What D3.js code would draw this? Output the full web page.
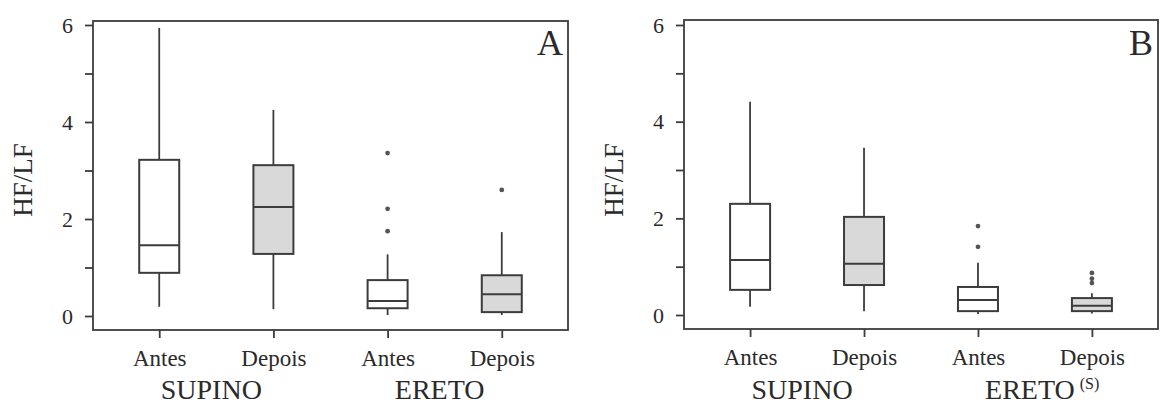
<!DOCTYPE html>
<html>
<head>
<meta charset="utf-8">
<script src="https://cdn.jsdelivr.net/npm/d3@7/dist/d3.min.js"></script>
<style>
  html, body { margin: 0; padding: 0; background: #fff; }
  svg { display: block; }
  text { font-family: "Liberation Serif", "Times New Roman", serif; fill: #2a2a2a; }
</style>
</head>
<body>
<svg id="chart" width="1160" height="407"></svg>
<script>
// ---------- data ----------
const categories = ["Antes", "Depois", "Antes", "Depois"];
const groups = ["SUPINO", "ERETO"];
const yTicks = [0, 2, 4, 6];
const yMinorTicks = [1, 3, 5];
const boxFills = ["#ffffff", "#d9d9d9", "#ffffff", "#d9d9d9"];

// Panel A
const whiskerLowA  = [0.19, 0.14, 0.02, 0.02];
const q1A          = [0.89, 1.28, 0.16, 0.08];
const medianA      = [1.46, 2.25, 0.31, 0.45];
const q3A          = [3.22, 3.11, 0.74, 0.84];
const whiskerHighA = [5.94, 4.25, 1.27, 1.73];
const outliersA    = [[], [], [3.36, 2.21, 1.75], [2.60]];

// Panel B
const whiskerLowB  = [0.17, 0.08, 0.02, 0.03];
const q1B          = [0.52, 0.62, 0.08, 0.08];
const medianB      = [1.14, 1.06, 0.31, 0.19];
const q3B          = [2.30, 2.03, 0.58, 0.35];
const whiskerHighB = [4.41, 3.46, 1.08, 0.45];
const outliersB    = [[], [], [1.84, 1.41], [0.87, 0.75, 0.66]];

const panels = [
  { letter: "A", sup: "", left: 93, right: 568, top: 21, bottom: 330, y0: 316, y6: 25,
    lo: whiskerLowA, q1: q1A, med: medianA, q3: q3A, hi: whiskerHighA, out: outliersA },
  { letter: "B", sup: "(S)", left: 684, right: 1158, top: 20, bottom: 329, y0: 315, y6: 25,
    lo: whiskerLowB, q1: q1B, med: medianB, q3: q3B, hi: whiskerHighB, out: outliersB }
];

// ---------- drawing ----------
const svg = d3.select("#chart");
const ink = "#3c3c3c";
const boxW = 40;

panels.forEach(p => {
  const g = svg.append("g");
  const idx = d3.range(categories.length);
  const x = d3.scalePoint().domain(idx).range([p.left, p.right]).padding(0.58);
  const y = d3.scaleLinear().domain([0, 6]).range([p.y0, p.y6]);

  // frame
  g.append("rect")
    .attr("x", p.left).attr("y", p.top)
    .attr("width", p.right - p.left).attr("height", p.bottom - p.top)
    .attr("fill", "none").attr("stroke", ink).attr("stroke-width", 1.8);

  // y axis (major + minor ticks)
  const yAxis = g.append("g").attr("transform", `translate(${p.left},0)`)
    .call(d3.axisLeft(y).tickValues(yTicks).tickSize(8).tickPadding(12).tickFormat(d3.format("d")));
  yAxis.select(".domain").remove();
  yAxis.selectAll("line").attr("stroke", ink).attr("stroke-width", 1.8);
  yAxis.selectAll("text").attr("font-size", 22).attr("fill", "#2a2a2a")
    .attr("font-family", "Liberation Serif");
  const yMinor = g.append("g").attr("transform", `translate(${p.left},0)`)
    .call(d3.axisLeft(y).tickValues(yMinorTicks).tickSize(8).tickFormat(""));
  yMinor.select(".domain").remove();
  yMinor.selectAll("line").attr("stroke", ink).attr("stroke-width", 1.8);

  // x axis
  const xAxis = g.append("g").attr("transform", `translate(0,${p.bottom})`)
    .call(d3.axisBottom(x).tickSize(8).tickPadding(11.5).tickFormat(i => categories[i]));
  xAxis.select(".domain").remove();
  xAxis.selectAll("line").attr("stroke", ink).attr("stroke-width", 1.8);
  xAxis.selectAll("text").attr("font-size", 23).attr("fill", "#2a2a2a")
    .attr("font-family", "Liberation Serif");

  // y label
  g.append("text")
    .attr("transform", `translate(${p.left - 70},180) rotate(-90)`)
    .attr("text-anchor", "middle").attr("dominant-baseline", "central")
    .attr("font-size", 27).text("HF/LF");

  // group labels
  const mid1 = (x(0) + x(1)) / 2 - 5;
  const mid2 = (x(2) + x(3)) / 2 - 5;
  g.append("text").attr("x", mid1).attr("y", 399).attr("text-anchor", "middle")
    .attr("font-size", 28).text(groups[0]);
  const er = g.append("text").attr("x", mid2).attr("y", 399).attr("text-anchor", "middle")
    .attr("font-size", 28).text(groups[1]);
  if (p.sup) {
    const w = er.node().getComputedTextLength();
    g.append("text").attr("x", mid2 + w / 2 + 5).attr("y", 389)
      .attr("font-size", 16).text(p.sup);
  }

  // panel letter
  g.append("text").attr("x", p.right - 5).attr("y", 55).attr("text-anchor", "end")
    .attr("font-size", 36).attr("fill", "#1e1e1e").text(p.letter);

  // boxes
  idx.forEach(i => {
    const cx = x(i);
    g.append("line").attr("x1", cx).attr("x2", cx)
      .attr("y1", y(p.hi[i])).attr("y2", y(p.q3[i]))
      .attr("stroke", ink).attr("stroke-width", 1.8);
    g.append("line").attr("x1", cx).attr("x2", cx)
      .attr("y1", y(p.q1[i])).attr("y2", y(p.lo[i]))
      .attr("stroke", ink).attr("stroke-width", 1.8);
    g.append("rect").attr("x", cx - boxW / 2).attr("y", y(p.q3[i]))
      .attr("width", boxW).attr("height", y(p.q1[i]) - y(p.q3[i]))
      .attr("fill", boxFills[i]).attr("stroke", ink).attr("stroke-width", 2);
    g.append("line").attr("x1", cx - boxW / 2).attr("x2", cx + boxW / 2)
      .attr("y1", y(p.med[i])).attr("y2", y(p.med[i]))
      .attr("stroke", ink).attr("stroke-width", 2);
    p.out[i].forEach(v => {
      g.append("circle").attr("cx", cx).attr("cy", y(v)).attr("r", 2.4).attr("fill", "#555");
    });
  });
});
</script>
</body>
</html>
